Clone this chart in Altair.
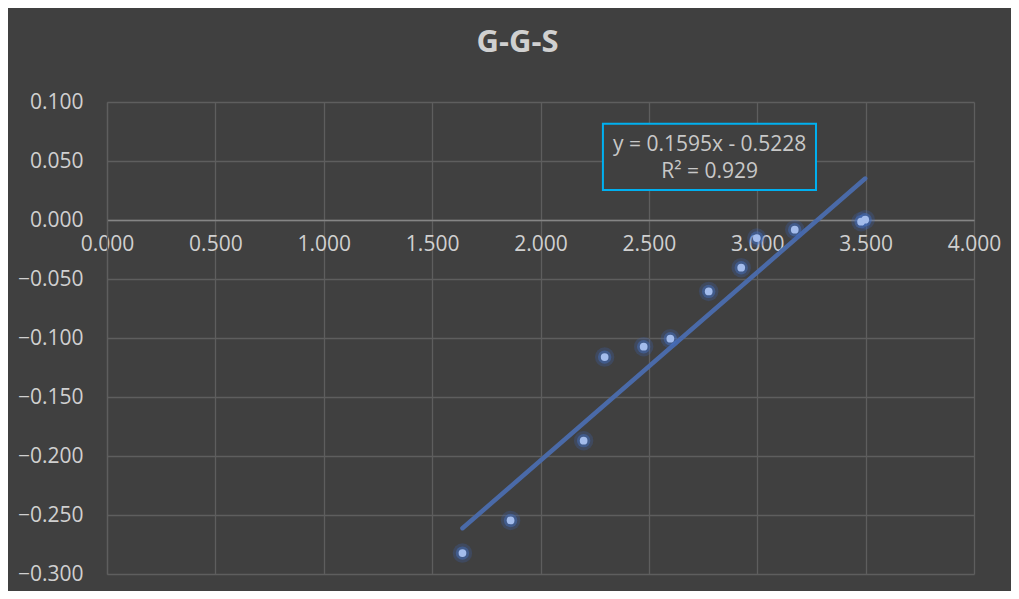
import altair as alt
import pandas as pd

# data
x_vals = [1.640, 1.862, 2.199, 2.296, 2.476, 2.599, 2.776, 2.926, 2.998, 3.173, 3.479, 3.498]
y_vals = [-0.2823, -0.2546, -0.1870, -0.1162, -0.1074, -0.1006, -0.0605, -0.0404, -0.0153, -0.0082, -0.0014, 0.0003]
slope = 0.1595
intercept = -0.5228
eq_lines = ["y = 0.1595x - 0.5228", "R² = 0.929"]
title_text = "G-G-S"
x_domain = [0, 4]
y_domain = [-0.3, 0.1]
box_x = [2.288, 3.271]
box_y = [0.0255, 0.0816]
label_x = 2.78
label_y = [0.0635, 0.0405]

W, H = 867, 472
BG = "#404040"
GRID = "#5e5e5e"
TXT = "#d0d0d0"
FONT = "Open Sans"

pts = pd.DataFrame({"x": x_vals, "y": y_vals})
xmin, xmax = min(x_vals), max(x_vals)
trend = pd.DataFrame({"x": [xmin, xmax], "y": [slope * xmin + intercept, slope * xmax + intercept]})
box = pd.DataFrame({"x": [box_x[0]], "x2": [box_x[1]], "y": [box_y[0]], "y2": [box_y[1]]})
labels = pd.DataFrame({"x": [label_x] * 2, "y": label_y, "t": eq_lines})

x_offset = -H * (0 - y_domain[0]) / (y_domain[1] - y_domain[0])

xs = alt.Scale(domain=x_domain, nice=False, zero=False)
ys = alt.Scale(domain=y_domain, nice=False, zero=False)

x_axis = alt.Axis(values=[0, 0.5, 1, 1.5, 2, 2.5, 3, 3.5, 4], format=".3f", grid=True, gridColor=GRID,
                  gridWidth=1.3, ticks=False, domainColor="#858585", domainWidth=1.5, labelColor=TXT,
                  labelFontSize=21, labelFont=FONT, labelFlush=False, labelPadding=13, offset=x_offset, title=None)
y_axis = alt.Axis(values=[-0.3, -0.25, -0.2, -0.15, -0.1, -0.05, 0, 0.05, 0.1], format=".3f", grid=True,
                  gridColor=GRID, gridWidth=1.3, ticks=False, domainColor=GRID, domainWidth=1.3, labelColor=TXT,
                  labelFontSize=21, labelFont=FONT, labelFlush=False, labelPadding=24, title=None)

base_pts = alt.Chart(pts)
grid_layer = base_pts.mark_point(opacity=0).encode(
    x=alt.X("x:Q", scale=xs, axis=x_axis), y=alt.Y("y:Q", scale=ys, axis=y_axis))

line = alt.Chart(trend).mark_line(color="#4a6aa8", strokeWidth=4.5, strokeCap="round").encode(
    x=alt.X("x:Q", scale=xs), y=alt.Y("y:Q", scale=ys))

halo2 = base_pts.mark_circle(color="#3a64b8", opacity=0.25, size=380).encode(
    x=alt.X("x:Q", scale=xs), y=alt.Y("y:Q", scale=ys))
halo = base_pts.mark_circle(color="#4472c4", opacity=0.45, size=180).encode(
    x=alt.X("x:Q", scale=xs), y=alt.Y("y:Q", scale=ys))
core = base_pts.mark_circle(color="#a3bcec", opacity=1, size=60).encode(
    x=alt.X("x:Q", scale=xs), y=alt.Y("y:Q", scale=ys))

rect = alt.Chart(box).mark_rect(fill=BG, stroke="#00b0f0", strokeWidth=2).encode(
    x=alt.X("x:Q", scale=xs), x2="x2", y=alt.Y("y:Q", scale=ys), y2="y2")
txt = alt.Chart(labels).mark_text(color="#c8c8c8", fontSize=21, font=FONT, align="center", baseline="middle").encode(
    x=alt.X("x:Q", scale=xs), y=alt.Y("y:Q", scale=ys), text="t:N")

chart = alt.layer(grid_layer, line, halo2, halo, core, rect, txt).properties(
    width=W, height=H,
    background=BG,
    padding={"left": 99, "top": 94, "right": 37, "bottom": 17},
    autosize=alt.AutoSizeParams(type="none"),
    title=alt.Title(title_text, fontSize=31, font=FONT, fontWeight="bold", color=TXT,
                    anchor="middle", dx=-23, offset=32),
).configure_view(stroke=None)

chart.save("out.html", embed_options={"renderer": "svg", "actions": False})
